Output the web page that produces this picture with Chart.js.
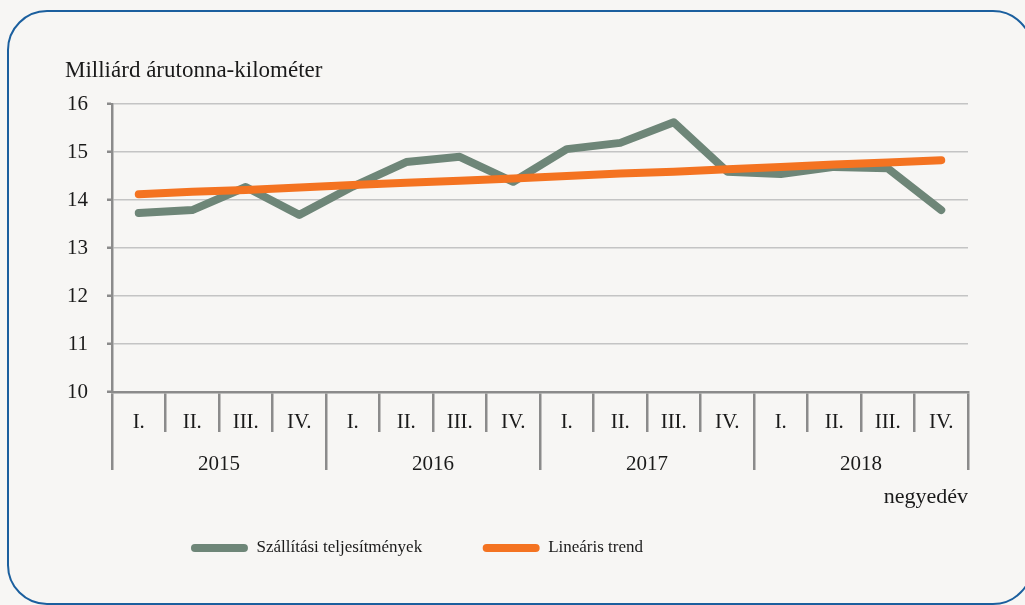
<!DOCTYPE html>
<html>
<head>
<meta charset="utf-8">
<script src="https://cdn.jsdelivr.net/npm/chart.js@4"></script>
<style>
  html, body { margin: 0; padding: 0; background: #f7f6f4; }
  body { width: 1025px; height: 605px; position: relative; overflow: hidden; }
  #frame { position: absolute; left: 7px; top: 10px; width: 1026px; height: 595px; box-sizing: border-box;
           border: 2px solid #1b5f9e; border-radius: 40px; }
  #wrap { position: absolute; left: 0; top: 0; width: 1025px; height: 605px; }
</style>
</head>
<body>
<div id="frame"></div>
<div id="wrap"><canvas id="c" width="1025" height="605"></canvas></div>
<script>
// ---- data ----
const quarters = ['I.', 'II.', 'III.', 'IV.', 'I.', 'II.', 'III.', 'IV.', 'I.', 'II.', 'III.', 'IV.', 'I.', 'II.', 'III.', 'IV.'];
const years = ['2015', '2016', '2017', '2018'];
const performance = [13.73, 13.79, 14.27, 13.69, 14.28, 14.79, 14.90, 14.38, 15.06, 15.19, 15.62, 14.59, 14.54, 14.69, 14.66, 13.79];
const trend = [14.12, 14.17, 14.21, 14.26, 14.31, 14.36, 14.40, 14.45, 14.50, 14.55, 14.59, 14.64, 14.69, 14.74, 14.78, 14.83];
const seriesNames = ['Szállítási teljesítmények', 'Lineáris trend'];
const yTitle = 'Milliárd árutonna-kilométer';
const xTitle = 'negyedév';

const FONT = "'Liberation Serif', 'Times New Roman', serif";
const AXIS = '#8b8b8b';
const TXT = '#1a1a1a';

const legendShift = {
  id: 'legendShift',
  afterLayout(chart) {
    const lg = chart.legend;
    if (!lg) return;
    lg.left = 0; lg.right = 834;
    lg.top = 479;
  }
};

new Chart(document.getElementById('c'), {
  type: 'line',
  data: {
    labels: quarters,
    datasets: [
      { label: seriesNames[0], data: performance, borderColor: '#6e8678', backgroundColor: '#6e8678',
        borderWidth: 8, pointRadius: 0, tension: 0, borderCapStyle: 'round', borderJoinStyle: 'round', order: 2 },
      { label: seriesNames[1], data: trend, borderColor: '#f47321', backgroundColor: '#f47321',
        borderWidth: 8, pointRadius: 0, tension: 0, borderCapStyle: 'round', borderJoinStyle: 'round', order: 1 }
    ]
  },
  options: {
    responsive: false,
    animation: false,
    events: [],
    layout: { padding: { left: 65, right: 57, top: 57, bottom: 9.5 } },
    plugins: {
      tooltip: { enabled: false },
      title: { display: true, text: yTitle, align: 'start', color: TXT,
               font: { family: FONT, size: 23, weight: 'normal', lineHeight: 1.2 },
               padding: { top: 0, bottom: 19.4 } },
      legend: {
        position: 'bottom', align: 'center',
        labels: {
          color: TXT, font: { family: FONT, size: 17 },
          boxWidth: 57, boxHeight: 8, padding: 60.5, useBorderRadius: true, borderRadius: 4,
          sort: (a, b) => a.datasetIndex - b.datasetIndex,
          generateLabels(chart) {
            const items = Chart.defaults.plugins.legend.labels.generateLabels(chart);
            items.forEach(it => { it.fillStyle = it.strokeStyle; it.lineWidth = 0; });
            return items;
          }
        }
      }
    },
    scales: {
      x: {
        type: 'category', position: 'bottom', weight: 1, offset: true,
        afterFit(s) { s.height = 40; },
        grid: { display: true, offset: true, drawOnChartArea: false, drawTicks: true, tickLength: 40,
                color: AXIS, lineWidth: 2.5 },
        border: { display: true, color: AXIS, width: 2.5 },
        ticks: { color: TXT, font: { family: FONT, size: 21, lineHeight: 1.2 }, padding: -22,
                 maxRotation: 0, autoSkip: false }
      },
      xYear: {
        type: 'category', labels: years, position: 'bottom', weight: 2, offset: true,
        afterFit(s) { s.height = 76; },
        grid: { display: true, offset: true, drawOnChartArea: false, drawTicks: true, tickLength: 38,
                color: AXIS, lineWidth: 2.5 },
        border: { display: false },
        ticks: { color: TXT, font: { family: FONT, size: 21, lineHeight: 1.2 }, padding: -18,
                 maxRotation: 0, autoSkip: false },
        title: { display: true, text: xTitle, align: 'end', color: TXT,
                 font: { family: FONT, size: 22, lineHeight: 1.2 }, padding: { top: 0, bottom: -2 } }
      },
      y: {
        min: 10, max: 16,
        afterFit(s) { s.width = 47; },
        ticks: { stepSize: 1, color: TXT, font: { family: FONT, size: 21 }, padding: 19 },
        grid: { color: '#c4c4c4', lineWidth: 1.5, tickColor: AXIS, tickLength: 5, tickWidth: 2.5 },
        border: { display: true, color: AXIS, width: 2.5 }
      }
    }
  },
  plugins: [legendShift]
});
</script>
</body>
</html>
